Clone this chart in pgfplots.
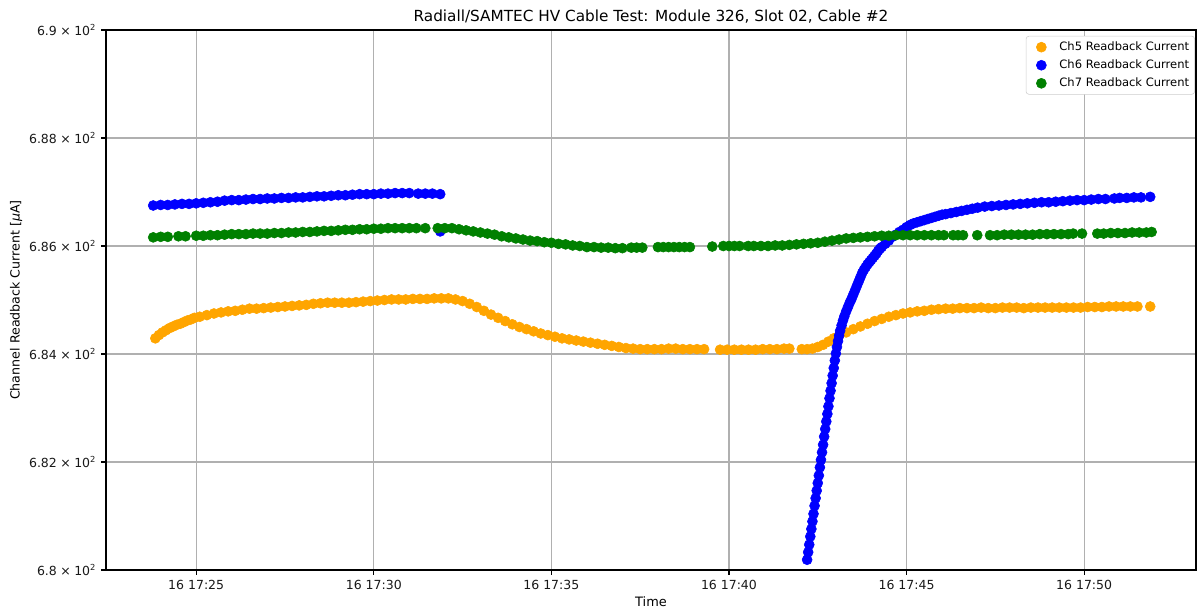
\documentclass[border=0pt]{standalone}
\usepackage{fontspec}
\setmainfont{DejaVu Sans}
\usepackage{pgfplots}
\pgfplotsset{compat=1.18}
\definecolor{cOrange}{HTML}{FFA500}
\definecolor{cBlue}{HTML}{0000FF}
\definecolor{cGreen}{HTML}{008000}
\definecolor{gridgray}{HTML}{B0B0B0}
\definecolor{leggray}{HTML}{CCCCCC}
\begin{document}
\begin{tikzpicture}
\begin{axis}[
  scale only axis,
  width=784.8pt, height=388.8pt,
  xmin=22.46, xmax=53.15,
  ymin=680, ymax=690,
  xtick={25,30,35,40,45,50},
  xticklabels={16 17:25,16 17:30,16 17:35,16 17:40,16 17:45,16 17:50},
  ytick={680,682,684,686,688,690},
  yticklabels={6.8\;×\;10\textsuperscript{2},6.82\;×\;10\textsuperscript{2},6.84\;×\;10\textsuperscript{2},6.86\;×\;10\textsuperscript{2},6.88\;×\;10\textsuperscript{2},6.9\;×\;10\textsuperscript{2}},
  tick label style={font=\fontsize{9}{11}\selectfont, black!90},
  tick align=outside,
  xtick pos=bottom, ytick pos=left,
  major tick length=3.5pt,
  tick style={black, line width=0.8pt},
  axis line style={black, line width=0.8pt},
  grid=major,
  major grid style={gridgray, line width=0.8pt},
  xlabel={Time},
  ylabel={Channel Readback Current [\textit{μ}A]},
  xlabel style={font=\fontsize{9.3}{11}\selectfont, at={(axis description cs:0.5,0)}, anchor=center, yshift=-23pt},
  ylabel style={font=\fontsize{9.1}{11}\selectfont, at={(axis description cs:-0.0825,0.5)}, anchor=center},
  title={Radiall/SAMTEC HV Cable Test: Module 326, Slot 02, Cable \#2},
  title style={font=\fontsize{11}{13}\selectfont, at={(axis description cs:0.5,1)}, anchor=center, yshift=3.4pt},
  legend style={at={(axis description cs:0.999,0.989)}, anchor=north east, draw=leggray, rounded corners=2pt,
    fill=white, font=\fontsize{8.3}{10}\selectfont,
    row sep=1.2pt, inner xsep=2pt, inner ysep=2pt},
  legend cell align=left,
  legend image code/.code={\path[draw=none,fill=none] (0pt,0pt) rectangle (20pt,0pt); \draw[#1] plot coordinates {(9pt,0pt)};},
  every axis plot/.append style={only marks, mark=*, mark size=3.6pt},
]
\addplot[cOrange, mark options={draw=cOrange, fill=cOrange}] table {
23.85 684.29
23.95 684.35
24.05 684.40
24.15 684.44
24.25 684.48
24.35 684.51
24.45 684.54
24.55 684.56
24.65 684.59
24.75 684.62
24.85 684.64
24.95 684.67
25.1 684.69
25.3 684.72
25.5 684.75
25.7 684.77
25.9 684.79
26.1 684.80
26.3 684.82
26.5 684.84
26.7 684.84
26.9 684.85
27.1 684.86
27.3 684.87
27.5 684.88
27.7 684.89
27.9 684.90
28.1 684.91
28.3 684.93
28.5 684.94
28.7 684.95
28.9 684.95
29.1 684.95
29.3 684.95
29.5 684.96
29.7 684.97
29.9 684.98
30.1 684.99
30.3 685.00
30.5 685.01
30.7 685.01
30.9 685.01
31.1 685.02
31.3 685.02
31.5 685.02
31.7 685.03
31.9 685.03
32.1 685.03
32.3 685.01
32.5 684.98
32.7 684.93
32.9 684.87
33.1 684.80
33.3 684.73
33.5 684.67
33.7 684.61
33.9 684.55
34.1 684.50
34.3 684.46
34.5 684.42
34.7 684.38
34.9 684.35
35.1 684.32
35.3 684.29
35.5 684.27
35.7 684.25
35.9 684.23
36.1 684.21
36.3 684.19
36.5 684.17
36.7 684.15
36.9 684.13
37.1 684.11
37.3 684.10
37.5 684.09
37.7 684.09
37.9 684.09
38.1 684.09
38.3 684.10
38.5 684.10
38.7 684.09
38.9 684.09
39.1 684.09
39.3 684.09
39.75 684.08
39.95 684.08
40.15 684.08
40.35 684.08
40.55 684.08
40.75 684.08
40.95 684.09
41.15 684.09
41.35 684.09
41.55 684.10
41.7 684.10
42.05 684.09
42.2 684.09
42.35 684.10
42.5 684.13
42.65 684.17
42.8 684.23
42.95 684.29
43.1 684.34
43.3 684.40
43.5 684.46
43.7 684.51
43.9 684.56
44.1 684.61
44.3 684.65
44.5 684.69
44.7 684.72
44.9 684.75
45.1 684.77
45.3 684.79
45.5 684.80
45.7 684.82
45.9 684.83
46.1 684.84
46.3 684.84
46.5 684.85
46.7 684.85
46.9 684.85
47.1 684.86
47.3 684.85
47.5 684.85
47.7 684.86
47.9 684.86
48.1 684.86
48.3 684.85
48.5 684.86
48.7 684.86
48.9 684.86
49.1 684.86
49.3 684.86
49.5 684.86
49.7 684.86
49.9 684.86
50.1 684.87
50.3 684.87
50.5 684.87
50.7 684.88
50.9 684.88
51.1 684.88
51.3 684.88
51.5 684.88
51.86 684.88
};
\addlegendentry{Ch5 Readback Current}
\addplot[cBlue, mark options={draw=cBlue, fill=cBlue}] table {
23.79 686.75
24.0 686.76
24.2 686.76
24.4 686.77
24.6 686.78
24.8 686.78
25.0 686.79
25.2 686.80
25.4 686.81
25.6 686.82
25.8 686.84
26.0 686.85
26.2 686.85
26.4 686.86
26.6 686.87
26.8 686.87
27.0 686.88
27.2 686.88
27.4 686.89
27.6 686.89
27.8 686.90
28.0 686.90
28.2 686.91
28.4 686.92
28.6 686.92
28.8 686.93
29.0 686.94
29.2 686.94
29.4 686.95
29.6 686.96
29.8 686.96
30.0 686.96
30.2 686.97
30.4 686.97
30.6 686.98
30.8 686.98
31.0 686.98
31.25 686.97
31.45 686.97
31.65 686.97
31.87 686.96
31.87 686.27
42.20 680.19
42.23 680.33
42.26 680.47
42.29 680.62
42.32 680.76
42.35 680.90
42.38 681.04
42.41 681.19
42.44 681.33
42.47 681.47
42.50 681.61
42.53 681.75
42.56 681.90
42.59 682.04
42.62 682.18
42.65 682.32
42.68 682.47
42.71 682.61
42.74 682.75
42.77 682.89
42.80 683.03
42.83 683.18
42.86 683.32
42.89 683.46
42.92 683.60
42.95 683.74
42.98 683.88
43.01 684.01
43.04 684.13
43.07 684.24
43.10 684.34
43.13 684.43
43.17 684.53
43.21 684.62
43.25 684.70
43.30 684.79
43.35 684.87
43.40 684.95
43.45 685.02
43.50 685.10
43.55 685.18
43.60 685.26
43.65 685.34
43.70 685.42
43.75 685.50
43.80 685.56
43.85 685.61
43.90 685.66
43.95 685.70
44.00 685.74
44.05 685.78
44.10 685.82
44.15 685.86
44.20 685.91
44.25 685.95
44.30 685.98
44.40 686.04
44.50 686.10
44.60 686.17
44.70 686.21
44.80 686.26
44.90 686.30
45.00 686.35
45.10 686.39
45.20 686.42
45.30 686.44
45.40 686.46
45.50 686.48
45.60 686.50
45.70 686.52
45.80 686.54
45.90 686.56
46.00 686.58
46.10 686.59
46.25 686.61
46.40 686.63
46.55 686.65
46.70 686.67
46.85 686.69
47.00 686.71
47.20 686.73
47.40 686.74
47.60 686.75
47.80 686.76
48.00 686.77
48.20 686.78
48.40 686.79
48.60 686.80
48.80 686.81
49.00 686.81
49.20 686.82
49.40 686.83
49.60 686.84
49.80 686.85
50.00 686.85
50.20 686.86
50.40 686.87
50.60 686.87
50.85 686.88
51.00 686.89
51.20 686.89
51.40 686.90
51.60 686.90
51.86 686.91
};
\addlegendentry{Ch6 Readback Current}
\addplot[cGreen, mark options={draw=cGreen, fill=cGreen}] table {
23.79 686.16
24.0 686.17
24.2 686.17
24.5 686.18
24.7 686.18
25.0 686.19
25.2 686.19
25.4 686.20
25.6 686.20
25.8 686.21
26.0 686.22
26.2 686.22
26.4 686.22
26.6 686.23
26.8 686.23
27.0 686.23
27.2 686.24
27.4 686.24
27.6 686.25
27.8 686.25
28.0 686.26
28.2 686.26
28.4 686.27
28.6 686.28
28.8 686.28
29.0 686.29
29.2 686.30
29.4 686.30
29.6 686.31
29.8 686.31
30.0 686.32
30.2 686.32
30.4 686.33
30.6 686.33
30.8 686.33
31.0 686.33
31.2 686.33
31.45 686.33
31.8 686.33
32.0 686.33
32.2 686.33
32.4 686.31
32.6 686.29
32.8 686.27
33.0 686.25
33.2 686.23
33.4 686.21
33.6 686.18
33.8 686.16
34.0 686.14
34.2 686.12
34.4 686.10
34.6 686.09
34.8 686.07
35.0 686.06
35.2 686.04
35.4 686.03
35.6 686.01
35.8 686.00
36.0 685.98
36.2 685.98
36.4 685.97
36.6 685.97
36.8 685.96
37.0 685.96
37.25 685.97
37.40 685.97
37.56 685.97
38.00 685.98
38.15 685.98
38.30 685.98
38.45 685.98
38.60 685.98
38.75 685.98
38.90 685.98
39.53 685.99
39.84 686.00
40.00 686.00
40.15 686.00
40.30 686.00
40.54 686.00
40.7 686.00
40.9 686.00
41.1 686.00
41.3 686.01
41.5 686.01
41.7 686.02
41.9 686.03
42.1 686.04
42.3 686.05
42.5 686.06
42.7 686.08
42.9 686.10
43.1 686.12
43.3 686.14
43.5 686.15
43.7 686.16
43.9 686.17
44.1 686.18
44.3 686.19
44.5 686.19
44.7 686.20
44.9 686.20
45.1 686.20
45.3 686.20
45.5 686.20
45.7 686.20
45.9 686.20
46.05 686.20
46.31 686.20
46.45 686.20
46.59 686.20
46.99 686.20
47.35 686.20
47.55 686.20
47.75 686.21
47.95 686.21
48.15 686.21
48.35 686.21
48.55 686.21
48.75 686.22
48.95 686.22
49.15 686.22
49.35 686.22
49.55 686.22
49.69 686.23
49.94 686.23
50.37 686.23
50.55 686.23
50.75 686.24
50.95 686.24
51.15 686.24
51.35 686.25
51.55 686.25
51.75 686.25
51.9 686.26
};
\addlegendentry{Ch7 Readback Current}
\end{axis}
\pgfresetboundingbox
\path[use as bounding box] (-76.3pt,-27.4pt) rectangle (785.5pt,410.4pt);
\end{tikzpicture}
\end{document}
